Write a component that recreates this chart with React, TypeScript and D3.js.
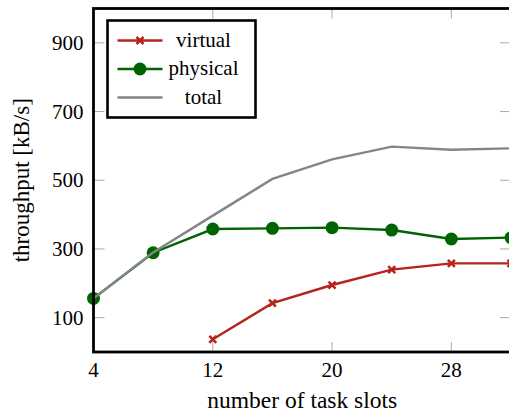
import React from "react";
import { scaleLinear, line } from "d3";

const slots = [4, 8, 12, 16, 20, 24, 28, 32];
const virtualSlots = [12, 16, 20, 24, 28, 32];
const virtualValues = [37, 142, 195, 240, 258, 258];
const physicalValues = [156, 289, 358, 360, 362, 355, 329, 333];
const totalValues = [156, 290, 397, 504, 561, 598, 589, 593];
const xTicks = [4, 12, 20, 28];
const yTicks = [100, 300, 500, 700, 900];
const legendItems = ["virtual", "physical", "total"];

const red = "#b5241b";
const green = "#006400";
const gray = "#858585";
const font = "'Liberation Serif', serif";

function Cross({ cx, cy }: { cx: number; cy: number }) {
  const s = 3.5;
  return (
    <path
      d={`M${cx - s},${cy - s}L${cx + s},${cy + s}M${cx - s},${cy + s}L${cx + s},${cy - s}`}
      stroke={red}
      strokeWidth={2.5}
    />
  );
}

export default function App() {
  const width = 509,
    height = 414,
    margin = { top: 8.5, right: -2, bottom: 62, left: 93.5 },
    innerWidth = width - margin.left - margin.right,
    innerHeight = height - margin.top - margin.bottom,
    x = scaleLinear().domain([4, 32]).range([0, innerWidth]),
    y = scaleLinear().domain([0, 1000]).range([innerHeight, 0]);

  const mk = line<[number, number]>()
    .x((d) => x(d[0]))
    .y((d) => y(d[1]));

  const virtualPts = virtualSlots.map((s, i) => [s, virtualValues[i]] as [number, number]);
  const physicalPts = slots.map((s, i) => [s, physicalValues[i]] as [number, number]);
  const totalPts = slots.map((s, i) => [s, totalValues[i]] as [number, number]);

  return (
    <svg
      width={width}
      height={height}
      style={{ position: "absolute", left: 0, top: 0, background: "#fff" }}
      fontFamily={font}
    >
      <g transform={`translate(${margin.left},${margin.top})`}>
        {/* ticks inside the frame */}
        {xTicks.map((t) => (
          <g key={"x" + t} stroke="#aaa" strokeWidth={1}>
            <line x1={x(t)} x2={x(t)} y1={innerHeight} y2={innerHeight - 10} />
            <line x1={x(t)} x2={x(t)} y1={0} y2={10} />
          </g>
        ))}
        {yTicks.map((t) => (
          <g key={"y" + t} stroke="#aaa" strokeWidth={1}>
            <line x1={0} x2={11} y1={y(t)} y2={y(t)} />
            <line x1={innerWidth} x2={innerWidth - 11} y1={y(t)} y2={y(t)} />
          </g>
        ))}

        <path d={mk(virtualPts) || ""} fill="none" stroke={red} strokeWidth={2.4} />
        {virtualPts.map((d, i) => (
          <Cross key={i} cx={x(d[0])} cy={y(d[1])} />
        ))}
        <path d={mk(physicalPts) || ""} fill="none" stroke={green} strokeWidth={2.4} />
        {physicalPts.map((d, i) => (
          <circle key={i} cx={x(d[0])} cy={y(d[1])} r={6.5} fill={green} />
        ))}
        <path d={mk(totalPts) || ""} fill="none" stroke={gray} strokeWidth={2.4} />

        <rect
          x={0}
          y={0}
          width={innerWidth}
          height={innerHeight}
          fill="none"
          stroke="#000"
          strokeWidth={2.8}
        />

        {xTicks.map((t) => (
          <text key={"xl" + t} x={x(t)} y={innerHeight + 25} textAnchor="middle" fontSize={21}>
            {t}
          </text>
        ))}
        {yTicks.map((t) => (
          <text key={"yl" + t} x={-10} y={y(t)} dy="0.34em" textAnchor="end" fontSize={21}>
            {t}
          </text>
        ))}

        {/* legend */}
        <g transform="translate(14,12)">
          <rect x={0} y={0} width={148} height={97} fill="#fff" stroke="#000" strokeWidth={2.6} />
          {legendItems.map((name, i) => {
            const ly = 20 + i * 28.5;
            const color = i === 0 ? red : i === 1 ? green : gray;
            return (
              <g key={name}>
                <line x1={10} x2={55} y1={ly} y2={ly} stroke={color} strokeWidth={2.4} />
                {i === 0 && <Cross cx={32.5} cy={ly} />}
                {i === 1 && <circle cx={32.5} cy={ly} r={6.5} fill={green} />}
                <text x={96} y={ly} dy="0.3em" textAnchor="middle" fontSize={21}>
                  {name}
                </text>
              </g>
            );
          })}
        </g>

        <text x={innerWidth / 2} y={innerHeight + 56} textAnchor="middle" fontSize={23.5}>
          number of task slots
        </text>
        <text
          transform={`translate(${-65},${innerHeight / 2}) rotate(-90)`}
          textAnchor="middle"
          fontSize={23}
        >
          throughput [kB/s]
        </text>
      </g>
    </svg>
  );
}
